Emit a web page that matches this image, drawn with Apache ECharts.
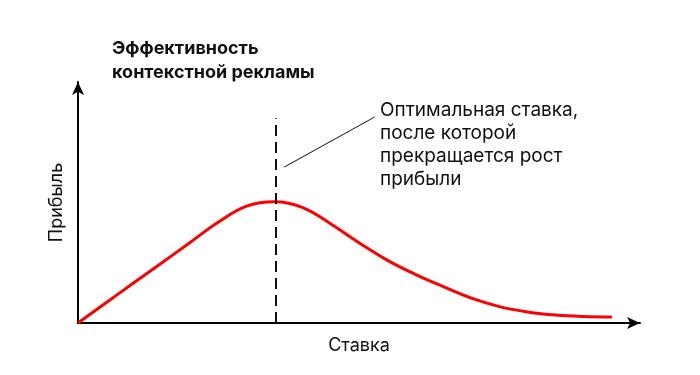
<!DOCTYPE html>
<html><head><meta charset="utf-8">
<script src="https://cdn.jsdelivr.net/npm/echarts@6/dist/echarts.min.js"></script>
<style>html,body{margin:0;padding:0;background:#fff}#c{width:700px;height:375px}</style>
</head><body><div id="c"></div>
<script>
const titleText = 'Эффективность\nконтекстной рекламы';
const xName = 'Ставка';
const yName = 'Прибыль';
const noteText = 'Оптимальная ставка,\nпосле которой\nпрекращается рост\nприбыли';
const bidX = [0, 5, 10, 15, 20, 25, 30, 35, 40, 45, 50, 55, 60, 65, 70, 75, 80, 85, 90, 95];
const profitY = [0, 8.4, 16.8, 25.1, 33.5, 41.9, 48.5, 50.3, 47.9, 41.1, 33.3, 26.1, 20.2, 15.1, 10.3, 6.8, 4.6, 3.3, 2.7, 2.5];
const optimumX = 35.1;
const optimumTop = 85;
const leader = [[36.7, 64.7], [52.8, 85.5]];

const chart = echarts.init(document.getElementById('c'));
const F = 'Inter, "Noto Sans", sans-serif';
chart.setOption({
  animation: false,
  title: {
    text: titleText, left: 107, top: 32,
    textStyle: {fontFamily: F, fontSize: 18, fontWeight: 'bold', color: '#111', lineHeight: 24}
  },
  grid: {left: 78, right: 60, top: 82, bottom: 52},
  xAxis: {
    type: 'value', min: 0, max: 100,
    name: xName, nameLocation: 'middle', nameGap: 14,
    nameTextStyle: {fontFamily: F, fontSize: 18, color: '#111'},
    axisLine: {show: true, lineStyle: {color: '#000', width: 2}, symbol: ['none', 'arrow'], symbolSize: [9, 13]},
    axisTick: {show: false}, axisLabel: {show: false}, splitLine: {show: false}
  },
  yAxis: {
    type: 'value', min: 0, max: 100,
    name: yName, nameLocation: 'middle', nameGap: 12, nameRotate: 90,
    nameTextStyle: {fontFamily: F, fontSize: 18, color: '#111'},
    axisLine: {show: true, lineStyle: {color: '#000', width: 2}, symbol: ['none', 'arrow'], symbolSize: [9, 13]},
    axisTick: {show: false}, axisLabel: {show: false}, splitLine: {show: false}
  },
  series: [{
    type: 'line', smooth: 0.4, symbol: 'none',
    data: bidX.map((x, i) => [x, profitY[i]]),
    lineStyle: {color: '#ff0000', width: 3},
    markLine: {
      silent: true, symbol: ['none', 'none'], label: {show: false},
      data: [
        [{coord: [optimumX, 0], lineStyle: {color: '#111', width: 2, type: [11, 6]}}, {coord: [optimumX, optimumTop]}],
        [{coord: leader[0], lineStyle: {color: '#111', width: 1, type: 'solid'}}, {coord: leader[1]}]
      ]
    },
    z: 3
  }],
  graphic: [{
    type: 'text', left: 380, top: 99,
    style: {text: noteText, font: '19px ' + F, fill: '#111', lineHeight: 23}
  }]
});
</script></body></html>
